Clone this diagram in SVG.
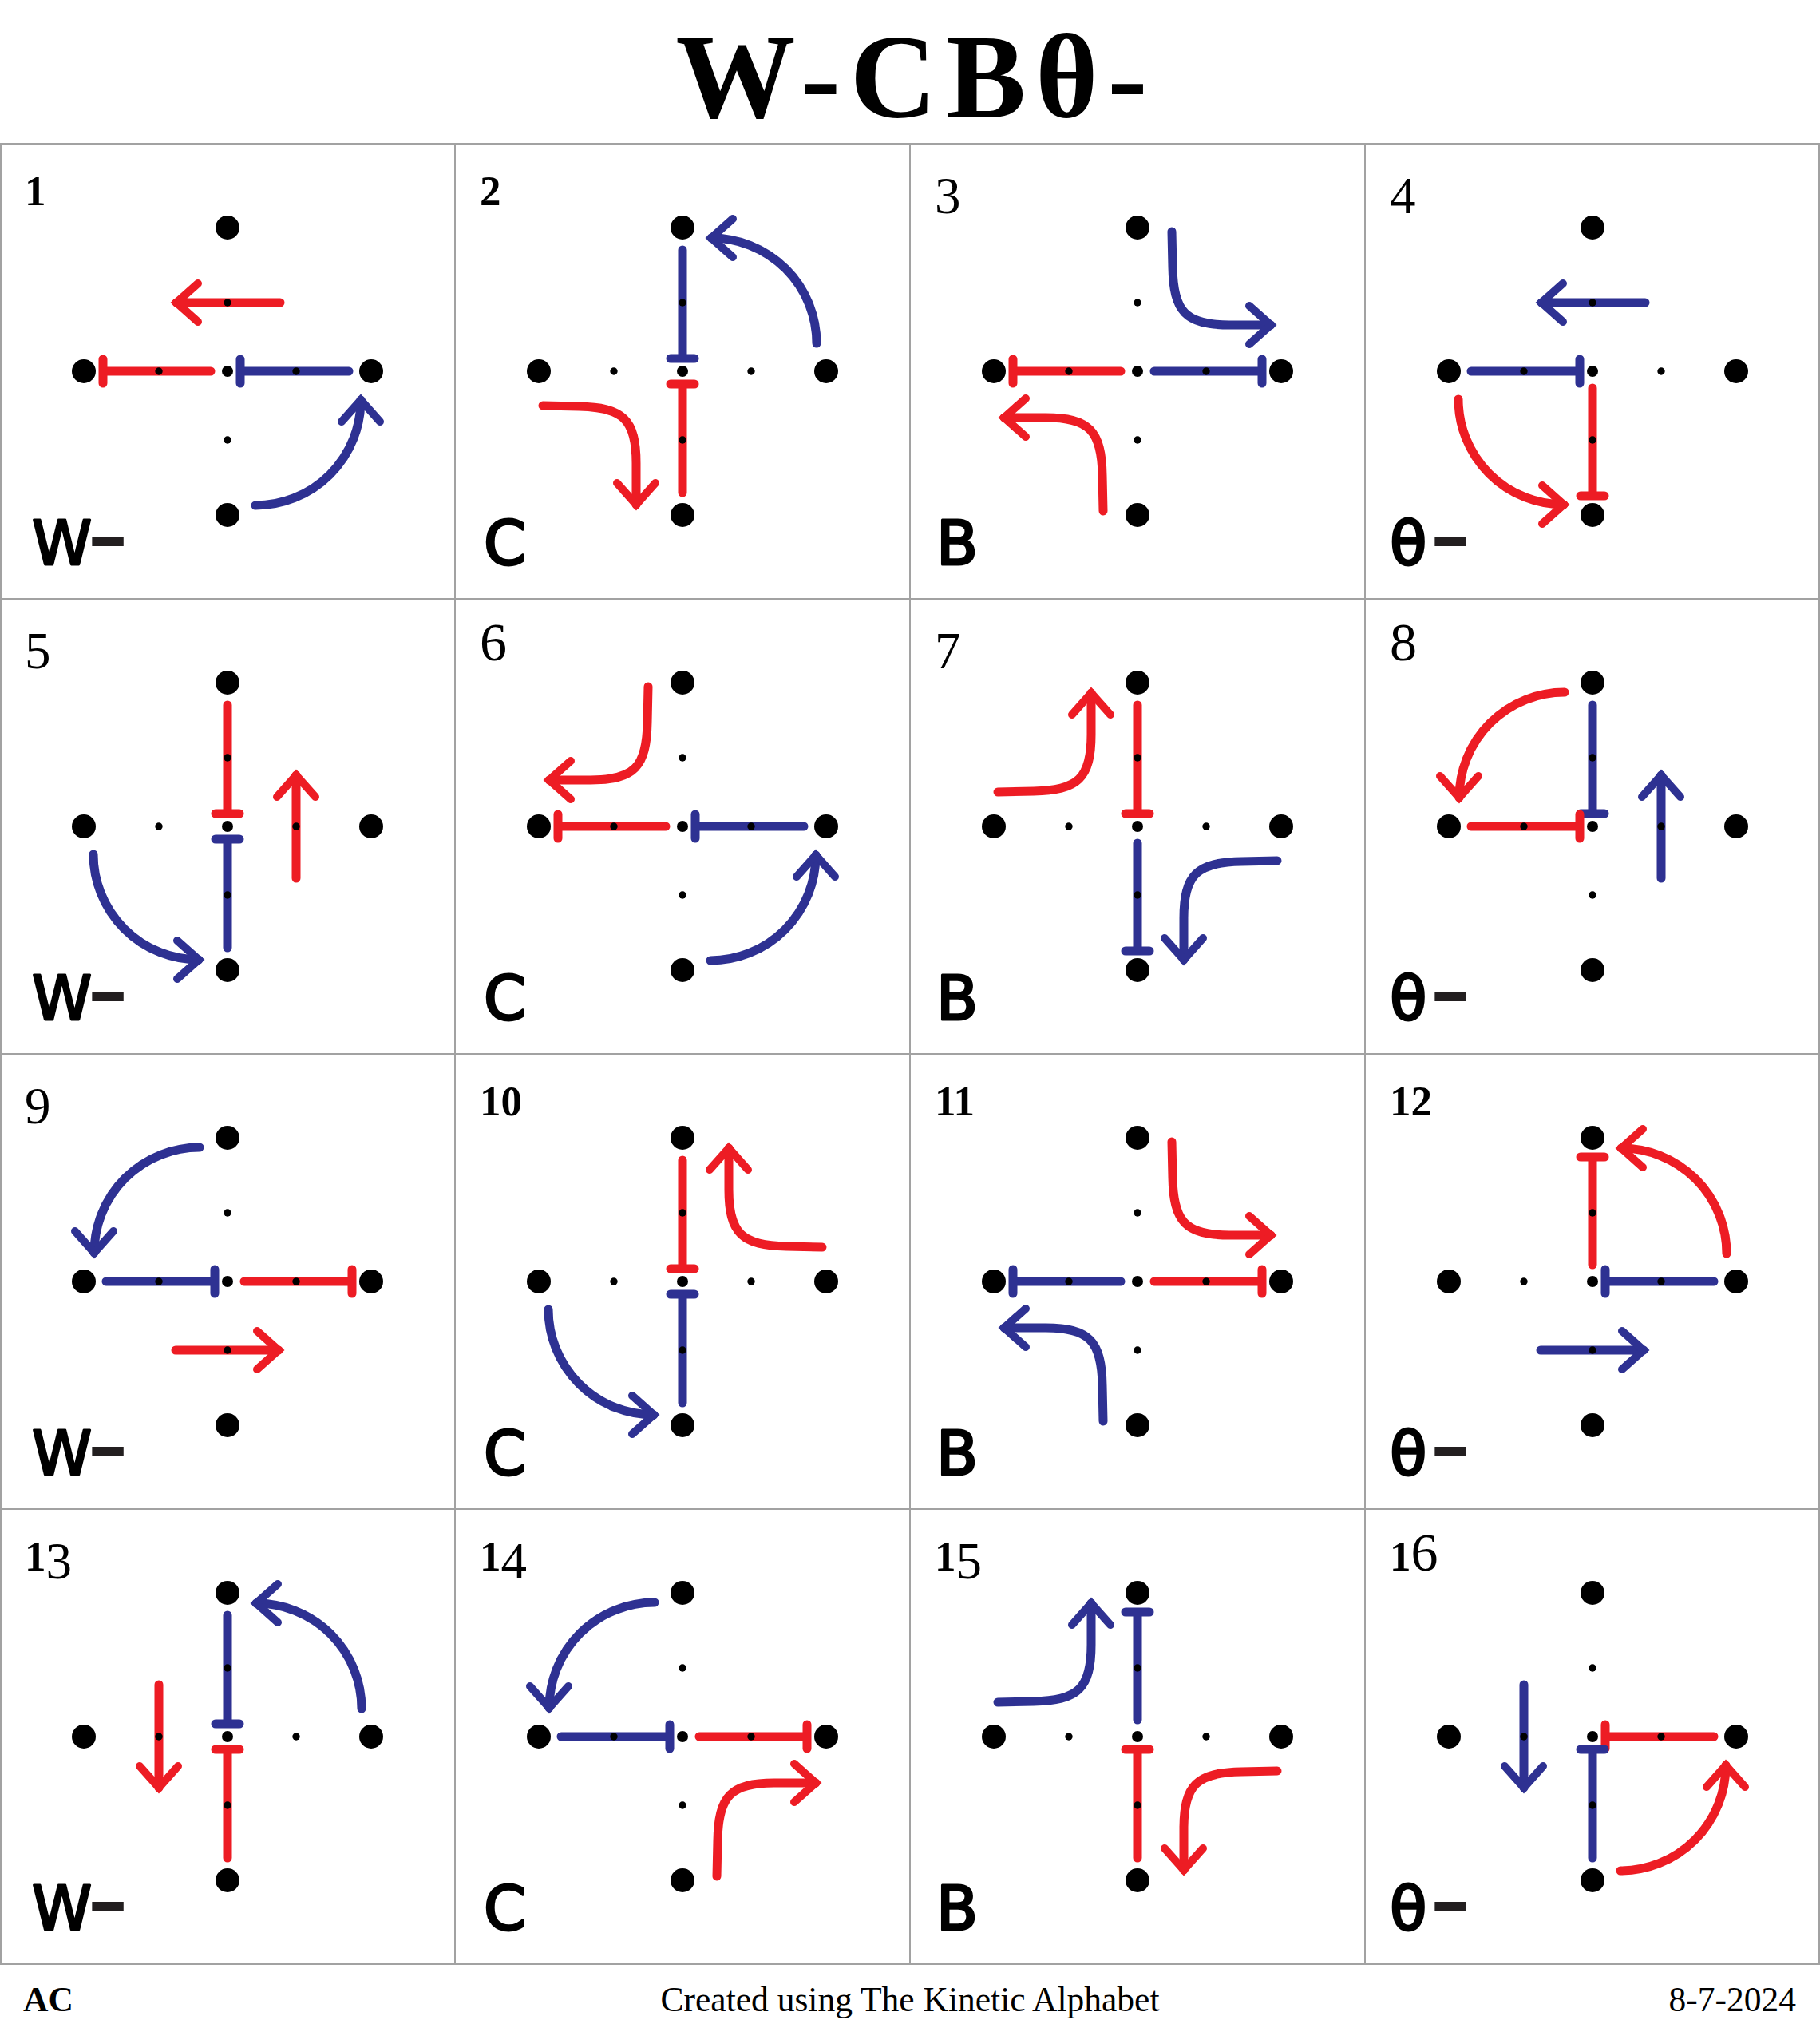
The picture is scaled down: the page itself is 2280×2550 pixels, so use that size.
<svg xmlns="http://www.w3.org/2000/svg" xmlns:xlink="http://www.w3.org/1999/xlink" width="2280" height="2550" viewBox="0 0 2280 2550">
<style>
.grid{fill:none;stroke:#a2a2a2;stroke-width:2}
.r{fill:none;stroke:#ED1C24;stroke-width:11;stroke-linecap:round;stroke-linejoin:round}
.b{fill:none;stroke:#2E3192;stroke-width:11;stroke-linecap:round;stroke-linejoin:round}
.num{font-family:"Liberation Serif",serif;fill:#000}
.s{font-size:53px;font-weight:bold}
.t{font-size:68px}
.d{font-size:65px}
.lbl{font-family:"DejaVu Sans",sans-serif;font-size:76px;fill:#000;stroke:#000;stroke-width:3;stroke-linejoin:round}
.dash{font-size:150px;fill:#231F20;stroke:none}
.title{font-family:"Liberation Serif",serif;font-weight:bold;font-size:150px;letter-spacing:12px;fill:#000}
.foot{font-family:"Liberation Serif",serif;font-size:43.5px;fill:#000}
</style>
<defs>
<marker id="hr" markerUnits="userSpaceOnUse" orient="auto" viewBox="-45 -40 60 80" markerWidth="60" markerHeight="80" refX="0" refY="0">
<path d="M-27,-24 L0,0 L-27,24" fill="none" stroke="#ED1C24" stroke-width="10" stroke-linecap="round" stroke-linejoin="miter"/>
</marker>
<marker id="hb" markerUnits="userSpaceOnUse" orient="auto" viewBox="-45 -40 60 80" markerWidth="60" markerHeight="80" refX="0" refY="0">
<path d="M-27,-24 L0,0 L-27,24" fill="none" stroke="#2E3192" stroke-width="10" stroke-linecap="round" stroke-linejoin="miter"/>
</marker>
<g id="dots" fill="#000">
<circle cx="0" cy="-180" r="15"/><circle cx="0" cy="180" r="15"/><circle cx="-180" cy="0" r="15"/><circle cx="180" cy="0" r="15"/>
<circle cx="0" cy="0" r="7"/>
<circle cx="0" cy="-86" r="4.7"/><circle cx="0" cy="86" r="4.7"/><circle cx="-86" cy="0" r="4.7"/><circle cx="86" cy="0" r="4.7"/>
</g>
</defs>
<rect width="2280" height="2550" fill="#fff"/>
<text class="title" x="1148" y="147" text-anchor="middle">W-CBθ-</text>
<g id="grid">
<rect class="grid" x="1" y="180" width="2278" height="2280"/>
<path class="grid" d="M570 180V2460M1140 180V2460M1710 180V2460M0 750H2280M0 1320H2280M0 1890H2280"/>
</g>

<g id="connectors">
<g transform="translate(285,465)">
<path class="r" d="M-21 0H-156M-156 -15V15"/>
<path class="b" d="M152 0H16M16 -15V15"/>
<path class="r" d="M66 -86H-64" marker-end="url(#hr)"/>
<path class="b" d="M35 168A132 132 0 0 0 167 36" marker-end="url(#hb)"/>
</g>
<g transform="translate(855,465)">
<path class="b" d="M0 -152V-16M-15 -16H15"/>
<path class="r" d="M0 152V16M-15 16H15"/>
<path class="b" d="M168 -35A132 132 0 0 0 36 -167" marker-end="url(#hb)"/>
<path class="r" d="M-175 43L-130 44C-75 45 -58 60 -58 115L-58 167" marker-end="url(#hr)"/>
</g>
<g transform="translate(1425,465)">
<path class="r" d="M-21 0H-156M-156 -15V15"/>
<path class="b" d="M21 0H156M156 -15V15"/>
<path class="b" d="M43 -175L44 -130C45 -75 60 -58 115 -58L167 -58" marker-end="url(#hb)"/>
<path class="r" d="M-43 175L-44 130C-45 75 -60 58 -115 58L-167 58" marker-end="url(#hr)"/>
</g>
<g transform="translate(1995,465)">
<path class="b" d="M-152 0H-16M-16 -15V15"/>
<path class="r" d="M0 21V156M-15 156H15"/>
<path class="b" d="M66 -86H-64" marker-end="url(#hb)"/>
<path class="r" d="M-168 35A132 132 0 0 0 -36 167" marker-end="url(#hr)"/>
</g>
<g transform="translate(285,1035)">
<path class="r" d="M0 -152V-16M-15 -16H15"/>
<path class="b" d="M0 152V16M-15 16H15"/>
<path class="r" d="M86 65V-64" marker-end="url(#hr)"/>
<path class="b" d="M-168 35A132 132 0 0 0 -36 167" marker-end="url(#hb)"/>
</g>
<g transform="translate(855,1035)">
<path class="r" d="M-21 0H-156M-156 -15V15"/>
<path class="b" d="M152 0H16M16 -15V15"/>
<path class="r" d="M-43 -175L-44 -130C-45 -75 -60 -58 -115 -58L-167 -58" marker-end="url(#hr)"/>
<path class="b" d="M35 168A132 132 0 0 0 167 36" marker-end="url(#hb)"/>
</g>
<g transform="translate(1425,1035)">
<path class="r" d="M0 -152V-16M-15 -16H15"/>
<path class="b" d="M0 21V156M-15 156H15"/>
<path class="r" d="M-175 -43L-130 -44C-75 -45 -58 -60 -58 -115L-58 -167" marker-end="url(#hr)"/>
<path class="b" d="M175 43L130 44C75 45 58 60 58 115L58 167" marker-end="url(#hb)"/>
</g>
<g transform="translate(1995,1035)">
<path class="b" d="M0 -152V-16M-15 -16H15"/>
<path class="r" d="M-152 0H-16M-16 -15V15"/>
<path class="b" d="M86 65V-64" marker-end="url(#hb)"/>
<path class="r" d="M-35 -168A132 132 0 0 0 -167 -36" marker-end="url(#hr)"/>
</g>
<g transform="translate(285,1605)">
<path class="b" d="M-152 0H-16M-16 -15V15"/>
<path class="r" d="M21 0H156M156 -15V15"/>
<path class="r" d="M-65 86H64" marker-end="url(#hr)"/>
<path class="b" d="M-35 -168A132 132 0 0 0 -167 -36" marker-end="url(#hb)"/>
</g>
<g transform="translate(855,1605)">
<path class="r" d="M0 -152V-16M-15 -16H15"/>
<path class="b" d="M0 152V16M-15 16H15"/>
<path class="r" d="M175 -43L130 -44C75 -45 58 -60 58 -115L58 -167" marker-end="url(#hr)"/>
<path class="b" d="M-168 35A132 132 0 0 0 -36 167" marker-end="url(#hb)"/>
</g>
<g transform="translate(1425,1605)">
<path class="b" d="M-21 0H-156M-156 -15V15"/>
<path class="r" d="M21 0H156M156 -15V15"/>
<path class="r" d="M43 -175L44 -130C45 -75 60 -58 115 -58L167 -58" marker-end="url(#hr)"/>
<path class="b" d="M-43 175L-44 130C-45 75 -60 58 -115 58L-167 58" marker-end="url(#hb)"/>
</g>
<g transform="translate(1995,1605)">
<path class="r" d="M0 -21V-156M-15 -156H15"/>
<path class="b" d="M152 0H16M16 -15V15"/>
<path class="b" d="M-65 86H64" marker-end="url(#hb)"/>
<path class="r" d="M168 -35A132 132 0 0 0 36 -167" marker-end="url(#hr)"/>
</g>
<g transform="translate(285,2175)">
<path class="b" d="M0 -152V-16M-15 -16H15"/>
<path class="r" d="M0 152V16M-15 16H15"/>
<path class="r" d="M-86 -65V64" marker-end="url(#hr)"/>
<path class="b" d="M168 -35A132 132 0 0 0 36 -167" marker-end="url(#hb)"/>
</g>
<g transform="translate(855,2175)">
<path class="b" d="M-152 0H-16M-16 -15V15"/>
<path class="r" d="M21 0H156M156 -15V15"/>
<path class="b" d="M-35 -168A132 132 0 0 0 -167 -36" marker-end="url(#hb)"/>
<path class="r" d="M43 175L44 130C45 75 60 58 115 58L167 58" marker-end="url(#hr)"/>
</g>
<g transform="translate(1425,2175)">
<path class="b" d="M0 -21V-156M-15 -156H15"/>
<path class="r" d="M0 152V16M-15 16H15"/>
<path class="b" d="M-175 -43L-130 -44C-75 -45 -58 -60 -58 -115L-58 -167" marker-end="url(#hb)"/>
<path class="r" d="M175 43L130 44C75 45 58 60 58 115L58 167" marker-end="url(#hr)"/>
</g>
<g transform="translate(1995,2175)">
<path class="r" d="M152 0H16M16 -15V15"/>
<path class="b" d="M0 152V16M-15 16H15"/>
<path class="b" d="M-86 -65V64" marker-end="url(#hb)"/>
<path class="r" d="M35 168A132 132 0 0 0 167 36" marker-end="url(#hr)"/>
</g>
</g>

<g id="cell-1" transform="translate(285,465)"><text class="num" x="-254" y="-208"><tspan class="s">1</tspan></text><text class="lbl" x="-245" y="242">W<tspan class="dash" x="-177" y="254">-</tspan></text><use href="#dots"/></g>
<g id="cell-2" transform="translate(855,465)"><text class="num" x="-254" y="-208"><tspan class="s">2</tspan></text><text class="lbl" x="-249" y="242">C</text><use href="#dots"/></g>
<g id="cell-3" transform="translate(1425,465)"><text class="num" x="-254" y="-198"><tspan class="d">3</tspan></text><text class="lbl" x="-252" y="242">B</text><use href="#dots"/></g>
<g id="cell-4" transform="translate(1995,465)"><text class="num" x="-254" y="-198"><tspan class="d">4</tspan></text><text class="lbl" x="-254" y="242">θ<tspan class="dash" x="-205" y="254">-</tspan></text><use href="#dots"/></g>
<g id="cell-5" transform="translate(285,1035)"><text class="num" x="-254" y="-198"><tspan class="d">5</tspan></text><text class="lbl" x="-245" y="242">W<tspan class="dash" x="-177" y="254">-</tspan></text><use href="#dots"/></g>
<g id="cell-6" transform="translate(855,1035)"><text class="num" x="-254" y="-208"><tspan class="t">6</tspan></text><text class="lbl" x="-249" y="242">C</text><use href="#dots"/></g>
<g id="cell-7" transform="translate(1425,1035)"><text class="num" x="-254" y="-198"><tspan class="d">7</tspan></text><text class="lbl" x="-252" y="242">B</text><use href="#dots"/></g>
<g id="cell-8" transform="translate(1995,1035)"><text class="num" x="-254" y="-208"><tspan class="t">8</tspan></text><text class="lbl" x="-254" y="242">θ<tspan class="dash" x="-205" y="254">-</tspan></text><use href="#dots"/></g>
<g id="cell-9" transform="translate(285,1605)"><text class="num" x="-254" y="-198"><tspan class="d">9</tspan></text><text class="lbl" x="-245" y="242">W<tspan class="dash" x="-177" y="254">-</tspan></text><use href="#dots"/></g>
<g id="cell-10" transform="translate(855,1605)"><text class="num" x="-254" y="-208"><tspan class="s">10</tspan></text><text class="lbl" x="-249" y="242">C</text><use href="#dots"/></g>
<g id="cell-11" transform="translate(1425,1605)"><text class="num" x="-254" y="-208"><tspan class="s">11</tspan></text><text class="lbl" x="-252" y="242">B</text><use href="#dots"/></g>
<g id="cell-12" transform="translate(1995,1605)"><text class="num" x="-254" y="-208"><tspan class="s">12</tspan></text><text class="lbl" x="-254" y="242">θ<tspan class="dash" x="-205" y="254">-</tspan></text><use href="#dots"/></g>
<g id="cell-13" transform="translate(285,2175)"><text class="num" x="-254" y="-208"><tspan class="s">1</tspan><tspan class="d" dy="10">3</tspan></text><text class="lbl" x="-245" y="242">W<tspan class="dash" x="-177" y="254">-</tspan></text><use href="#dots"/></g>
<g id="cell-14" transform="translate(855,2175)"><text class="num" x="-254" y="-208"><tspan class="s">1</tspan><tspan class="d" dy="10">4</tspan></text><text class="lbl" x="-249" y="242">C</text><use href="#dots"/></g>
<g id="cell-15" transform="translate(1425,2175)"><text class="num" x="-254" y="-208"><tspan class="s">1</tspan><tspan class="d" dy="10">5</tspan></text><text class="lbl" x="-252" y="242">B</text><use href="#dots"/></g>
<g id="cell-16" transform="translate(1995,2175)"><text class="num" x="-254" y="-208"><tspan class="s">1</tspan><tspan class="t">6</tspan></text><text class="lbl" x="-254" y="242">θ<tspan class="dash" x="-205" y="254">-</tspan></text><use href="#dots"/></g>

<g id="footer">
<text class="foot" x="29" y="2519" font-weight="bold" font-size="42">AC</text>
<text class="foot" x="1140" y="2519" text-anchor="middle">Created using The Kinetic Alphabet</text>
<text class="foot" x="2250" y="2519" text-anchor="end">8-7-2024</text>
</g>
</svg>
